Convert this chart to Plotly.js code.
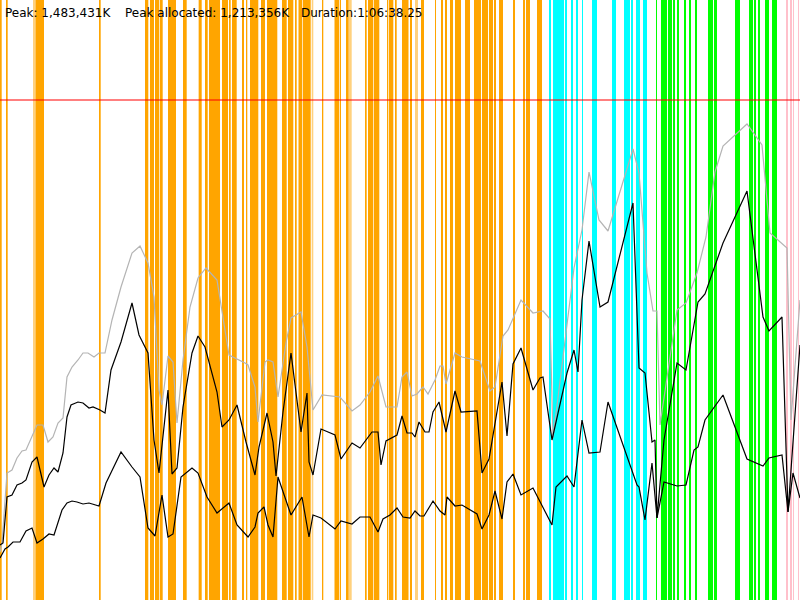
<!DOCTYPE html>
<html><head><meta charset="utf-8">
<script src="https://cdn.plot.ly/plotly-3.0.1.min.js"></script>
<style>html,body{margin:0;padding:0;background:#fff}#c{width:800px;height:600px}</style>
</head><body><div id="c"></div>
<script>
// Event intervals (time units along x)
const orangeStart = [0,6,35.5,99,145,150,155,160,168,183,199,200,205,209,222,229,232,242,246,250,261,267,282,288,295,298.5,303,322,334.5,340,346,365,368,374,387,389,395,402,410,421,435,441,445,450,455,465,474,482,489,494,499,513,523,526,537];
const orangeEnd   = [1.7,7.7,44,100.7,148.3,154,159.3,162.7,176,186.7,200.5,201.7,207.7,220,228,230.7,236.7,244,247.3,258.3,265,277.3,286.7,293.3,296.7,302.3,310.7,323.3,339.3,341,348.7,366.7,373.3,379.3,388.3,393.3,396.7,408.5,412,424,436,443,447,453,461,470,481,488,493,496,503,515,525,530,542];
const orangeLightStart = [33,198.3,311.7,349,415];
const orangeLightEnd   = [35.5,199,313.3,351.7,418];
const cyanStart = [549,553,565,571,576,582,592,612,624,631,636,643];
const cyanEnd   = [551,564,567,573,578,583,597,616,630,633,640,647];
const greenStart = [656,661,668,673,677,684,689,695,708,714,735,749,754,758,765,772];
const greenEnd   = [657,667,672,675,679,686,691,697,713,717,740,753,756,760,769,777];
const pinkStart = [786,790,793,798];
const pinkEnd   = [788,792,794,799];

// Memory series
const totalX = [0,2,7,12,17,22,26,31,37,43,48,53,58,63,67,72,78,83,88,94,99,105,112,121,132,140,148,154,159,162,168,173,177,183,190,198,206,217,223,229,245,248,255,258,265,268,273,278,286,291,301,307,313,322,340,352,360,370,378,386,397,402,407,412,417,423,428,435,440,443,446,455,462,480,490,495,503,508,521,533,543,550,553,574,582,589,599,608,633,639,647,653,657,660,677,686,697,706,715,723,747,762,770,787,791,800];
const totalY = [48,57,127,130,142,149,150,162,175,175,158,163,177,182,223,233,240,247,247,243,247,247,280,313,347,354,337,303,210,195,244,238,177,240,293,322,332,320,280,245,237,235,213,178,238,240,238,203,257,282,288,253,190,205,203,189,195,208,224,193,193,223,228,204,206,213,206,220,234,234,216,247,243,239,209,213,264,270,300,287,289,281,162,332,370,428,380,369,451,427,327,289,289,175,290,297,327,363,428,454,476,455,367,352,180,300];

const allocX = [0,3,7,12,17,22,26,32,37,44,49,54,58,63,67,71,78,83,89,93,100,105,111,121,132,139,148,154,159,168,172,177,183,192,198,205,217,222,229,237,246,255,259,267,273,276,283,291,301,307,309,313,321,335,341,352,360,372,378,381,386,397,402,407,412,415,419,425,429,433,439,446,455,461,477,482,489,502,507,513,521,533,540,543,552,567,574,578,582,589,600,608,633,639,645,652,655,657,664,677,686,698,705,723,747,763,769,782,788,800];
const allocY = [55,57,103,105,115,117,120,138,143,113,125,132,128,147,183,195,198,197,192,193,190,187,230,258,297,265,247,160,127,210,126,132,193,247,264,253,208,173,180,195,158,125,153,187,158,124,188,247,168,207,138,125,171,165,141,157,152,168,168,135,159,165,184,167,167,163,178,168,168,188,198,168,209,188,189,127,141,218,164,236,252,210,222,223,160,227,250,228,300,359,293,298,397,232,227,158,160,82,160,237,230,298,306,357,409,283,269,283,88,255];

const liveX = [0,5,8,13,20,26,32,37,43,49,54,62,67,72,77,83,89,99,106,121,132,140,148,155,162,168,173,181,192,198,207,217,229,237,248,255,258,264,268,273,278,291,302,309,313,321,335,341,352,360,370,378,383,390,397,403,410,415,420,424,433,440,445,447,455,462,477,482,489,495,502,507,513,521,533,540,552,556,567,574,582,589,600,608,637,639,645,652,657,664,677,686,694,698,705,723,747,763,769,782,788,793,800];
const liveY = [42,51,53,58,58,69,72,57,61,66,65,90,97,99,98,96,97,94,117,148,133,123,72,64,105,63,66,123,132,127,103,87,97,75,63,73,87,93,75,63,123,85,103,63,85,82,71,79,76,83,83,68,81,85,92,83,82,89,84,84,99,89,85,103,94,95,86,71,85,109,81,118,126,105,112,98,75,113,124,113,180,147,148,198,115,113,80,137,82,118,114,115,150,153,180,205,141,134,142,145,88,127,102];

const limitLevel = 500;
const textItems = ["Peak: 1,483,431K", "Peak allocated: 1,213,356K", "Duration:1:06:38.25"];
const textPos = [3, 123, 299];

function barTrace(s, e, color, op) {
  return {
    type: 'bar',
    x: s.map((v, i) => (v + e[i]) / 2),
    width: s.map((v, i) => e[i] - v),
    y: s.map(() => 600),
    base: 0,
    marker: {color: color, line: {width: 0}},
    opacity: op,
    hoverinfo: 'skip'
  };
}
function lineTrace(x, y, color) {
  return {type: 'scatter', mode: 'lines', x: x, y: y,
    line: {color: color, width: 1.2}, hoverinfo: 'skip'};
}

const data = [
  barTrace(orangeStart, orangeEnd, '#FFA500', 1),
  barTrace(orangeLightStart, orangeLightEnd, '#FFA500', 0.5),
  barTrace(cyanStart, cyanEnd, '#00FFFF', 1),
  barTrace(greenStart, greenEnd, '#00FF00', 1),
  barTrace(pinkStart, pinkEnd, '#FFC0CB', 1),
  lineTrace(totalX, totalY, '#b4b4b4'),
  lineTrace(allocX, allocY, '#000000'),
  lineTrace(liveX, liveY, '#000000')
];

const layout = {
  width: 800, height: 600,
  margin: {l: 0, r: 0, t: 0, b: 0, pad: 0},
  paper_bgcolor: '#ffffff', plot_bgcolor: '#ffffff',
  showlegend: false, barmode: 'overlay',
  xaxis: {range: [0, 800], visible: false, fixedrange: true},
  yaxis: {range: [0, 600], visible: false, fixedrange: true},
  shapes: [{type: 'line', xref: 'paper', x0: 0, x1: 1, yref: 'y', y0: limitLevel, y1: limitLevel,
    line: {color: 'rgba(255,0,0,0.5)', width: 2}, layer: 'above'}],
  annotations: textItems.map((t, i) => ({
    text: t, xref: 'paper', yref: 'paper', x: textPos[i] / 800, y: 1 - 13 / 600,
    xanchor: 'left', yanchor: 'middle', showarrow: false,
    font: {family: 'DejaVu Sans', size: 12, color: '#000'}
  }))
};

Plotly.newPlot('c', data, layout, {staticPlot: true, displayModeBar: false});
</script>
</body></html>
